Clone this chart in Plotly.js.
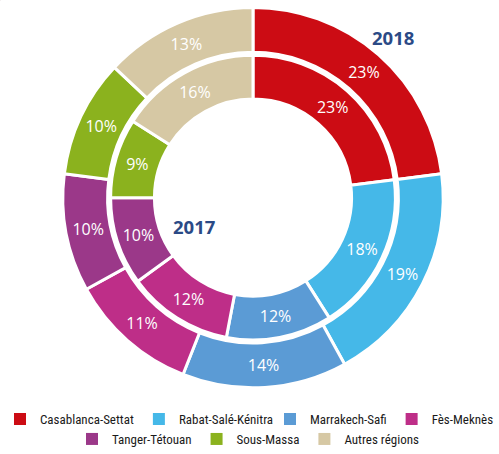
<!DOCTYPE html>
<html><head><meta charset="utf-8">
<script src="https://cdn.plot.ly/plotly-3.0.1.min.js"></script>
<style>html,body{margin:0;padding:0;background:#fff}#c{width:499px;height:454px}</style>
</head><body><div id="c"></div>
<script>
const regions = ["Casablanca-Settat","Rabat-Salé-Kénitra","Marrakech-Safi","Fès-Meknès","Tanger-Tétouan","Sous-Massa","Autres régions"];
const values2018 = [23,19,14,11,10,10,13];
const values2017 = [23,18,12,12,10,9,16];
const colors = ["#CC0C14","#45B8E8","#5B9BD5","#BE2E88","#9B3889","#8BB21E","#D6C8A4"];
const font = "'Open Sans', 'Noto Sans', sans-serif";
const legFont = "'Roboto Condensed', 'DejaVu Sans Condensed', sans-serif";

const W=499,H=454, cx=253, cy=198.5, rOut=191, rIn=143;
function dom(r){return {x:[(cx-r)/W,(cx+r)/W], y:[(H-cy-r)/H,(H-cy+r)/H]};}

const common = {type:'pie', sort:false, direction:'clockwise', rotation:0,
  textinfo:'text', textposition:'inside', insidetextorientation:'horizontal',
  textfont:{color:'#fff', size:16, family:font}, hoverinfo:'label+value', showlegend:false};

// legend-only entries, split in groups so rows look like the reference (4 + 3)
function legendPie(a, b, lg){
  return {type:'pie', sort:false, labels:regions.slice(a,b), values:values2018.slice(a,b),
    marker:{colors:colors.slice(a,b), line:{width:0}}, textinfo:'none', hoverinfo:'skip',
    domain:{x:[0,0.0005], y:[0.9995,1]}, legend:lg, showlegend:true};
}

const traces = [
  Object.assign({}, common, {name:'2018', labels:regions, values:values2018, text:values2018.map(v=>v+'%'),
    marker:{colors:colors, line:{color:'#fff', width:3}}, hole:146/191, domain:dom(rOut)}),
  Object.assign({}, common, {name:'2017', labels:regions, values:values2017, text:values2017.map(v=>v+'%'),
    marker:{colors:colors, line:{color:'#fff', width:3}}, hole:99/143, domain:dom(rIn)}),
  legendPie(0,2,'legend'),
  legendPie(2,4,'legend3'),
  legendPie(4,7,'legend2')
];
const legBase = {orientation:'h', yanchor:'middle', font:{size:13, color:'#1a1a1a', family:legFont}, traceorder:'normal', itemwidth:30, bgcolor:'rgba(0,0,0,0)'};
const layout = {width:W, height:H, margin:{l:0,r:0,t:0,b:0}, paper_bgcolor:'#fff',
  font:{family:font, color:'#222'},
  showlegend:true,
  legend:Object.assign({}, legBase, {x:0, xanchor:'left', y:1-421/454}),
  legend3:Object.assign({}, legBase, {x:1, xanchor:'right', y:1-421/454}),
  legend2:Object.assign({}, legBase, {x:0.497, xanchor:'center', y:1-441/454}),
  annotations:[
    {text:'<b>2018</b>', x:393/W, y:1-38/H, xref:'paper', yref:'paper', xanchor:'center', yanchor:'middle', showarrow:false, font:{size:18.5, color:'#2B4A86', family:font}},
    {text:'<b>2017</b>', x:194/W, y:1-228/H, xref:'paper', yref:'paper', xanchor:'center', yanchor:'middle', showarrow:false, font:{size:18.5, color:'#2B4A86', family:font}}
  ]};
Plotly.newPlot('c', traces, layout, {displayModeBar:false});
</script></body></html>
